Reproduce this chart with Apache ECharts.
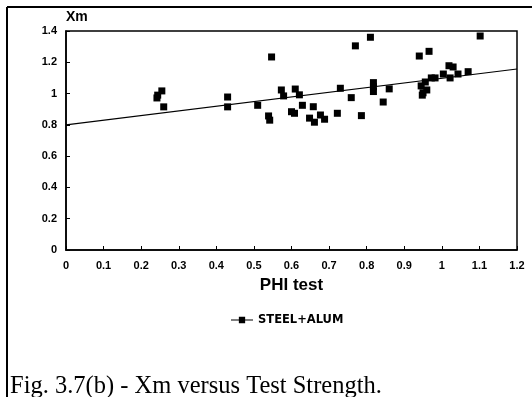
<!DOCTYPE html>
<html>
<head>
<meta charset="utf-8">
<script src="https://cdn.jsdelivr.net/npm/echarts@6/dist/echarts.min.js"></script>
<style>html,body{margin:0;padding:0;background:#fff;}#c{width:532px;height:397px;}</style>
</head>
<body>
<div id="c"></div>
<script>
const phi = [0.242,0.244,0.255,0.26,0.43,0.43,0.51,0.539,0.542,0.547,0.573,0.579,0.6,0.608,0.61,0.621,0.629,0.648,0.658,0.661,0.677,0.688,0.722,0.73,0.759,0.77,0.786,0.81,0.818,0.818,0.818,0.844,0.86,0.94,0.966,0.945,0.948,0.95,0.956,0.96,0.972,0.982,1.004,1.019,1.03,1.022,1.043,1.07,1.102];
const xm  = [0.972,0.99,1.017,0.915,0.978,0.915,0.925,0.857,0.83,1.234,1.023,0.985,0.884,0.874,1.029,0.992,0.925,0.843,0.916,0.817,0.863,0.836,0.874,1.034,0.974,1.305,0.859,1.36,1.07,1.044,1.013,0.946,1.03,1.24,1.27,1.049,0.99,1.005,1.074,1.023,1.1,1.1,1.125,1.178,1.17,1.1,1.125,1.14,1.368];
const fitX = [0, 1.2];
const fitY = [0.8, 1.157];
const seriesName = 'STEEL+ALUM';
const xTitle = 'PHI test';
const yTitle = 'Xm';
const caption = 'Fig. 3.7(b) - Xm versus Test Strength.';

const chart = echarts.init(document.getElementById('c'), null, {renderer: 'canvas'});
const lbl = {color: '#000', fontFamily: 'Liberation Sans, Arial', fontWeight: 'bold', fontSize: 11};
chart.setOption({
  animation: false,
  backgroundColor: '#fff',
  grid: {left: 66, top: 31, right: 15, bottom: 147, show: true, borderColor: '#000', borderWidth: 1.5, backgroundColor: 'transparent'},
  xAxis: {
    type: 'value', min: 0, max: 1.2, interval: 0.1,
    name: xTitle, nameLocation: 'middle', nameGap: 27,
    nameTextStyle: {color: '#000', fontFamily: 'Liberation Sans, Arial', fontWeight: 'bold', fontSize: 17},
    axisLine: {show: true, lineStyle: {color: '#000', width: 1.5}},
    axisTick: {show: true, inside: true, length: 4, lineStyle: {color: '#000'}},
    axisLabel: Object.assign({margin: 10}, lbl),
    splitLine: {show: false}
  },
  yAxis: {
    type: 'value', min: 0, max: 1.4, interval: 0.2,
    name: yTitle, nameLocation: 'end', nameGap: 7,
    nameTextStyle: {color: '#000', fontFamily: 'Liberation Sans, Arial', fontWeight: 'bold', fontSize: 14, align: 'left'},
    axisLine: {show: true, lineStyle: {color: '#000', width: 1.5}},
    axisTick: {show: true, inside: true, length: 4, lineStyle: {color: '#000'}},
    axisLabel: Object.assign({margin: 9}, lbl),
    splitLine: {show: false}
  },
  legend: {
    bottom: 66, left: 226,
    data: [{name: seriesName, icon: 'path://M0,4.4H10V1H18V4.4H28V5.6H18V9H10V5.6H0Z'}],
    itemWidth: 22, itemHeight: 7, itemGap: 6,
    textStyle: {color: '#000', fontFamily: 'DejaVu Sans', fontWeight: 'bold', fontSize: 11.5}
  },
  series: [
    {
      name: seriesName, type: 'scatter', symbol: 'rect', symbolSize: 7,
      itemStyle: {color: '#000', opacity: 1},
      data: phi.map((v, i) => [v, xm[i]]), z: 3
    },
    {
      name: 'fit', type: 'line', symbol: 'none', silent: true,
      lineStyle: {color: '#000', width: 1.2},
      data: fitX.map((v, i) => [v, fitY[i]]), z: 2
    }
  ],
  graphic: [
    {type: 'line', shape: {x1: 7, y1: 7, x2: 532, y2: 7}, style: {stroke: '#000', lineWidth: 2}},
    {type: 'line', shape: {x1: 7, y1: 7, x2: 7, y2: 397}, style: {stroke: '#000', lineWidth: 2}},
    {type: 'text', left: 10, top: 374, style: {text: caption, fill: '#000', font: '24.5px "Liberation Serif", "Times New Roman", serif'}}
  ]
});
</script>
</body>
</html>
